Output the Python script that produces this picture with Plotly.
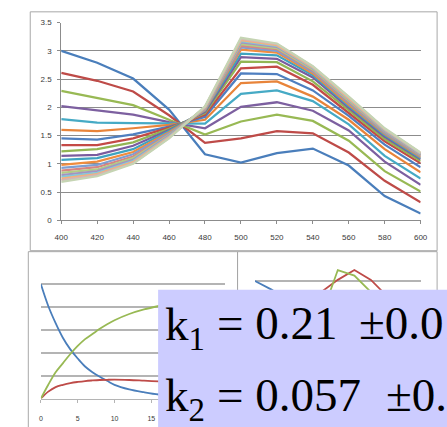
import plotly.graph_objects as go

W, H = 447, 427

def px(x):
    return x / W

def py(y):
    return 1 - y / H

# ---------------- data ----------------
wavelengths = [400, 420, 440, 460, 480, 500, 520, 540, 560, 580, 600]

spec_01 = [3.00, 2.79, 2.51, 1.96, 1.17, 1.02, 1.19, 1.27, 0.97, 0.43, 0.12]
spec_02 = [2.61, 2.47, 2.28, 1.86, 1.37, 1.45, 1.58, 1.54, 1.20, 0.70, 0.32]
spec_03 = [2.29, 2.17, 2.04, 1.78, 1.52, 1.75, 1.87, 1.76, 1.41, 0.87, 0.51]
spec_04 = [2.02, 1.94, 1.87, 1.74, 1.63, 2.01, 2.09, 1.94, 1.59, 1.04, 0.63]
spec_05 = [1.79, 1.73, 1.72, 1.71, 1.71, 2.24, 2.30, 2.11, 1.70, 1.14, 0.74]
spec_06 = [1.60, 1.58, 1.63, 1.69, 1.78, 2.43, 2.46, 2.19, 1.78, 1.26, 0.85]
spec_07 = [1.45, 1.43, 1.52, 1.66, 1.83, 2.60, 2.59, 2.30, 1.85, 1.34, 0.94]
spec_08 = [1.33, 1.33, 1.45, 1.64, 1.87, 2.69, 2.72, 2.40, 1.90, 1.40, 1.01]
spec_09 = [1.22, 1.26, 1.38, 1.62, 1.90, 2.81, 2.80, 2.46, 1.95, 1.44, 1.05]
spec_10 = [1.14, 1.16, 1.32, 1.60, 1.92, 2.89, 2.86, 2.53, 1.99, 1.48, 1.08]
spec_11 = [1.07, 1.10, 1.26, 1.58, 1.94, 2.95, 2.92, 2.57, 2.02, 1.51, 1.10]
spec_12 = [0.98, 1.04, 1.21, 1.56, 1.95, 3.02, 2.97, 2.60, 2.05, 1.53, 1.12]
spec_13 = [0.93, 0.98, 1.17, 1.54, 1.96, 3.06, 3.00, 2.63, 2.08, 1.55, 1.14]
spec_14 = [0.88, 0.94, 1.13, 1.52, 1.97, 3.09, 3.03, 2.65, 2.10, 1.57, 1.15]
spec_15 = [0.84, 0.90, 1.10, 1.51, 1.98, 3.12, 3.05, 2.67, 2.12, 1.58, 1.16]
spec_16 = [0.80, 0.87, 1.07, 1.50, 1.99, 3.15, 3.07, 2.69, 2.14, 1.59, 1.17]
spec_17 = [0.77, 0.84, 1.05, 1.48, 2.00, 3.17, 3.09, 2.70, 2.15, 1.60, 1.18]
spec_18 = [0.74, 0.82, 1.03, 1.47, 2.00, 3.19, 3.10, 2.71, 2.16, 1.61, 1.19]
spec_19 = [0.71, 0.80, 1.01, 1.46, 2.01, 3.21, 3.12, 2.72, 2.18, 1.62, 1.19]
spec_20 = [0.68, 0.78, 1.00, 1.45, 2.02, 3.23, 3.13, 2.73, 2.19, 1.63, 1.20]

spectra = [spec_01, spec_02, spec_03, spec_04, spec_05, spec_06, spec_07,
           spec_08, spec_09, spec_10, spec_11, spec_12, spec_13, spec_14,
           spec_15, spec_16, spec_17, spec_18, spec_19, spec_20]

# concentration profiles (bottom-left)
times = [0, 1, 2, 3, 4, 5, 6, 7, 8, 9, 10, 12, 14, 16, 18, 20, 22, 25]
conc_A = [1.0, 0.81, 0.66, 0.53, 0.43, 0.35, 0.28, 0.23, 0.19, 0.155, 0.12,
          0.08, 0.055, 0.035, 0.025, 0.016, 0.011, 0.006]
conc_B = [0.0, 0.06, 0.10, 0.12, 0.135, 0.145, 0.153, 0.158, 0.162, 0.164,
          0.165, 0.162, 0.156, 0.15, 0.145, 0.14, 0.136, 0.13]
conc_C = [0.0, 0.12, 0.23, 0.31, 0.39, 0.46, 0.52, 0.565, 0.61, 0.65, 0.685,
          0.74, 0.78, 0.81, 0.835, 0.855, 0.87, 0.89]

# pure-component spectra (bottom-right)
pure_A = [3.00, 2.78, 2.50, 1.95, 1.18, 1.02, 1.20, 1.27, 0.97, 0.43, 0.12]
pure_B = [0.90, 1.00, 1.20, 1.60, 2.72, 3.03, 3.28, 3.03, 2.60, 1.90, 1.30]
pure_C = [0.62, 0.74, 0.98, 1.42, 2.10, 3.28, 3.14, 2.72, 2.15, 1.60, 1.18]

x_ticks_top = [400, 420, 440, 460, 480, 500, 520, 540, 560, 580, 600]
x_ticks_conc = [0, 5, 10, 15]

k1_label = "k<sub>1</sub>"
k1_value = "= 0.21"
k1_err = "±0.01"
k2_label = "k<sub>2</sub>"
k2_value = "= 0.057"
k2_err = "±0.003"

# ---------------- style ----------------
series_colors = [
    "#4A7EBB", "#BE4B48", "#98B954", "#7D60A0", "#46AAC5", "#E8843A",
    "#4F7FC0", "#C44A46", "#92B654", "#7B5C9E", "#3FA3C0", "#F08C3E",
    "#7E9FD2", "#D68583", "#B2CC86", "#A493C0", "#86C8DA", "#F6B07A",
    "#D5B5B5", "#C5D4B3",
]
grid_col = "#8C8C8C"
grid_col2 = "#B4B4B4"
frame_col = "#A8A8A8"
tick_font = dict(family="Liberation Sans", size=8, color="#3A3A3A")
tick_font_small = dict(family="Liberation Sans", size=7, color="#3A3A3A")

fig = go.Figure()

for i, s in enumerate(spectra):
    fig.add_trace(go.Scatter(
        x=wavelengths, y=s, mode="lines", xaxis="x", yaxis="y",
        line=dict(color=series_colors[i], width=2.25), showlegend=False,
        hoverinfo="skip"))

for c, col in [(conc_A, "#4A7EBB"), (conc_B, "#BE4B48"), (conc_C, "#98B954")]:
    fig.add_trace(go.Scatter(
        x=times, y=c, mode="lines", xaxis="x2", yaxis="y2",
        line=dict(color=col, width=1.8, shape="spline"), showlegend=False,
        hoverinfo="skip"))

for c, col in [(pure_A, "#4A7EBB"), (pure_B, "#BE4B48"), (pure_C, "#98B954")]:
    fig.add_trace(go.Scatter(
        x=wavelengths, y=c, mode="lines", xaxis="x3", yaxis="y3",
        line=dict(color=col, width=1.8), showlegend=False, hoverinfo="skip"))

shapes = [
    # chart frames
    dict(type="rect", xref="paper", yref="paper", x0=px(24), x1=px(444),
         y0=py(252), y1=py(8), line=dict(color=frame_col, width=1),
         layer="below"),
    dict(type="rect", xref="paper", yref="paper", x0=px(22), x1=px(238),
         y0=py(440), y1=py(253), line=dict(color=frame_col, width=1),
         layer="below"),
    dict(type="rect", xref="paper", yref="paper", x0=px(238), x1=px(444),
         y0=py(440), y1=py(253), line=dict(color=frame_col, width=1),
         layer="below"),
    # lavender box
    dict(type="rect", xref="paper", yref="paper", x0=px(156), x1=px(460),
         y0=py(440), y1=py(292), fillcolor="#CCCCFF",
         line=dict(width=0), layer="above"),
]

txt_font = dict(family="Liberation Serif", size=47, color="#000000")
ann = []
for lab, val, err, base, errx in [(k1_label, k1_value, k1_err, 339, 361),
                                  (k2_label, k2_value, k2_err, 412, 389)]:
    ymid = base - 9
    ann.append(dict(text=lab, x=px(161), y=py(ymid), xref="paper",
                    yref="paper", xanchor="left", yanchor="middle",
                    showarrow=False, font=txt_font))
    ann.append(dict(text=val, x=px(215), y=py(ymid - 4), xref="paper",
                    yref="paper", xanchor="left", yanchor="middle",
                    showarrow=False, font=txt_font))
    ann.append(dict(text=err, x=px(errx), y=py(ymid - 4),
                    xref="paper", yref="paper", xanchor="left",
                    yanchor="middle", showarrow=False, font=txt_font))

fig.update_layout(
    width=W, height=H, margin=dict(l=0, r=0, t=0, b=0),
    paper_bgcolor="white", plot_bgcolor="rgba(0,0,0,0)",
    showlegend=False, shapes=shapes, annotations=ann,
    xaxis=dict(domain=[px(56), px(427)], range=[400, 600],
               tickvals=x_ticks_top, showgrid=False, zeroline=False,
               showline=True, linecolor=grid_col, linewidth=1,
               ticks="outside", ticklen=3, tickcolor=grid_col,
               tickfont=tick_font, ticklabelstandoff=6, anchor="y"),
    yaxis=dict(domain=[py(221), py(19)], range=[0, 3.5], dtick=0.5,
               showgrid=True, gridcolor=grid_col, gridwidth=1,
               zeroline=False, showline=True, linecolor=grid_col,
               ticks="outside", ticklen=3, tickcolor=grid_col,
               tickfont=tick_font, ticklabelstandoff=4, anchor="x"),
    xaxis2=dict(domain=[px(35), px(225)], range=[0, 25],
                tickvals=x_ticks_conc, showgrid=False, zeroline=False,
                showline=True, linecolor=grid_col2, ticks="outside",
                ticklen=3, tickcolor=grid_col2, tickfont=tick_font_small,
                ticklabelstandoff=10, anchor="y2"),
    yaxis2=dict(domain=[py(403), py(263)], range=[0, 1.2], dtick=0.2,
                showgrid=True, gridcolor=grid_col2, gridwidth=1.5,
                zeroline=False, showline=False, showticklabels=False,
                anchor="x2"),
    xaxis3=dict(domain=[px(256), px(427)], range=[400, 600],
                showgrid=False, zeroline=False, showline=False,
                showticklabels=False, anchor="y3"),
    yaxis3=dict(domain=[py(403), py(263)], range=[0, 3.5], dtick=0.5,
                showgrid=True, gridcolor=grid_col2, gridwidth=1.5,
                zeroline=False, showline=False, showticklabels=False,
                anchor="x3"),
)

fig.write_html("out.html", config={"displayModeBar": False},
               post_script="document.body.style.margin='0';")
